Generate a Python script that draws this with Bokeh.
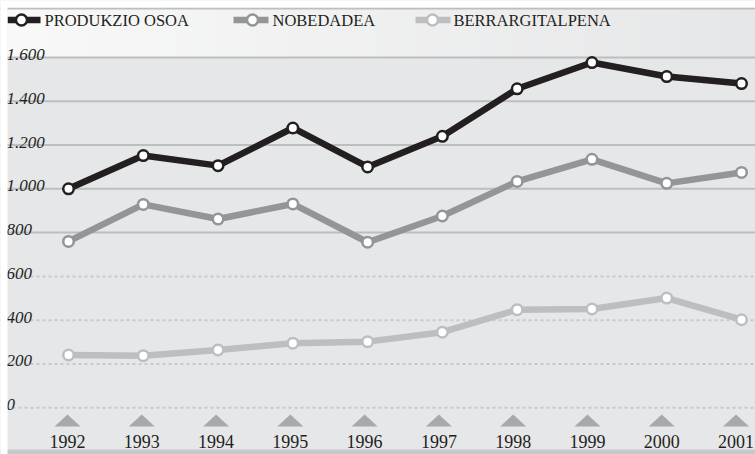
from bokeh.plotting import figure
from bokeh.models import Range1d
from bokeh.core.properties import value
from bokeh.embed import file_html
from bokeh.resources import INLINE

# ---------------- data ----------------
years = [1992, 1993, 1994, 1995, 1996, 1997, 1998, 1999, 2000, 2001]
year_labels = [str(y) for y in years]
produkzio_osoa = [1000, 1152, 1106, 1278, 1100, 1240, 1457, 1577, 1513, 1481]
nobedadea = [760, 929, 862, 931, 756, 876, 1034, 1135, 1025, 1075]
berrargitalpena = [241, 238, 264, 295, 302, 345, 448, 451, 501, 402]
series_names = ["PRODUKZIO OSOA", "NOBEDADEA", "BERRARGITALPENA"]
y_ticks = [0, 200, 400, 600, 800, 1000, 1200, 1400, 1600]
y_tick_labels = ["0", "200", "400", "600", "800", "1.000", "1.200", "1.400", "1.600"]

# ---------------- layout (pixel helpers) ----------------
W, H = 755, 454
PX_PER_YEAR = 74.78
X0 = years[0] - 68 / PX_PER_YEAR
X1 = X0 + W / PX_PER_YEAR
PX_PER_UNIT = 0.2189
Y1 = 1600 + 57 / PX_PER_UNIT
Y0 = Y1 - H / PX_PER_UNIT
TICK_STEP_PX = 74.28  # category ticks sit on a slightly tighter pitch
TICK_START_PX = 67


def dx(px):
    return X0 + px / PX_PER_YEAR


def dy(py):
    return Y1 - py / PX_PER_UNIT


colors = ["#231f20", "#939598", "#bcbec0"]
BG = "#e6e7e8"
SERIF = value("Liberation Serif")

p = figure(width=W, height=H, output_backend="svg", toolbar_location=None,
           x_range=Range1d(X0, X1), y_range=Range1d(Y0, Y1),
           min_border=0, min_border_left=0, min_border_right=0,
           min_border_top=0, min_border_bottom=0)
p.axis.visible = False
p.xgrid.visible = False
p.ygrid.visible = False
p.background_fill_color = BG
p.border_fill_color = BG
p.outline_line_color = None

# top band gradient (legend area)
n_strips = 40
c0 = (248, 248, 248)
c1 = (230, 231, 232)
lefts, rights, fills = [], [], []
for i in range(n_strips):
    t = i / (n_strips - 1)
    c = tuple(int(round(a + (b - a) * t)) for a, b in zip(c0, c1))
    lefts.append(dx(7) + (X1 - dx(7)) * i / n_strips)
    rights.append(dx(7) + (X1 - dx(7)) * (i + 1) / n_strips + 0.01)
    fills.append("#%02x%02x%02x" % c)
p.quad(left=lefts, right=rights, top=[Y1] * n_strips, bottom=[1600] * n_strips,
       fill_color=fills, line_color=None)

# top border line
p.segment(x0=[X0], x1=[X1], y0=[dy(8)], y1=[dy(8)], line_color="#bcbec0", line_width=2)
# bottom band
p.quad(left=[X0], right=[X1], top=[dy(449)], bottom=[Y0], fill_color="#c8c9cb", line_color=None)

# gridlines
for t in y_ticks:
    if t >= 800:
        p.segment(x0=[X0], x1=[X1], y0=[t], y1=[t], line_color="#bcbec0", line_width=2)
    else:
        p.segment(x0=[X0], x1=[X1], y0=[t], y1=[t], line_color="#c9cacc",
                  line_width=2, line_dash="3 3")

# y tick labels
p.text(x=[dx(6)] * len(y_ticks), y=y_ticks, text=y_tick_labels, text_align="left",
       text_baseline="alphabetic", y_offset=-3,
       text_font=SERIF, text_font_style="italic", text_font_size="17px",
       text_color="#231f20")

# triangles + year labels
tick_x = [dx(TICK_START_PX + TICK_STEP_PX * (y - years[0])) for y in years]
half_w = 13 / PX_PER_YEAR
tri_xs = [[x - half_w, x, x + half_w] for x in tick_x]
tri_ys = [[dy(426), dy(414), dy(426)] for _ in years]
p.patches(xs=tri_xs, ys=tri_ys, fill_color="#a7a9ac", line_color=None)
p.text(x=tick_x, y=[dy(441)] * len(years), text=year_labels, text_align="center",
       text_baseline="alphabetic", text_font=SERIF, text_font_size="18px",
       text_color="#231f20")

# series
series = [produkzio_osoa, nobedadea, berrargitalpena]
for vals, col in zip(series, colors):
    p.line(years, vals, line_color=col, line_width=6.5, line_join="round")
    p.scatter(years, vals, marker="circle", size=10.5, fill_color="white",
              line_color=col, line_width=2.5)

# legend (manual)
leg_icon = [(7, 40, 21, 44), (233, 268, 252, 272), (415, 450, 432, 453)]
LEG_Y = 19.5
for (a, b, c, t), name, col in zip(leg_icon, series_names, colors):
    p.segment(x0=[dx(a)], x1=[dx(b)], y0=[dy(LEG_Y)], y1=[dy(LEG_Y)],
              line_color=col, line_width=6.5)
    p.scatter([dx(c)], [dy(LEG_Y)], marker="circle", size=11, fill_color="white",
              line_color=col, line_width=2.5)
    p.text(x=[dx(t)], y=[dy(LEG_Y)], text=[name], text_align="left",
           text_baseline="middle", text_font=SERIF, text_font_size="16.5px",
           text_color="#231f20")

# white page margins (top / left), drawn last
p.quad(left=[X0], right=[dx(7)], top=[Y1], bottom=[Y0], fill_color="white", line_color=None)
p.quad(left=[X0], right=[X1], top=[Y1], bottom=[dy(7)], fill_color="white", line_color=None)

html = file_html(p, INLINE)
html = html.replace("<head>", "<head><style>html,body{overflow:hidden;}</style>", 1)
open("out.html", "w").write(html)
